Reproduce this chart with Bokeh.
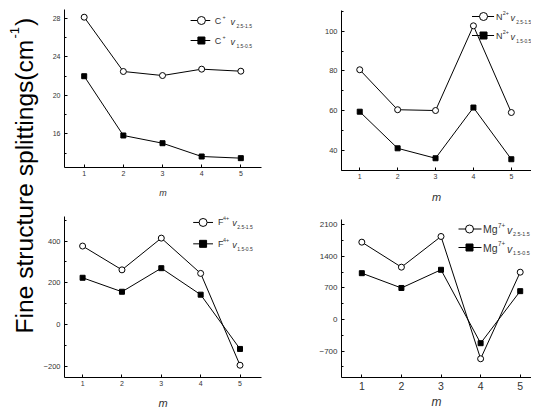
import math
from bokeh.plotting import figure
from bokeh.layouts import row, column
from bokeh.models import Range1d, FixedTicker, SingleIntervalTicker, Label
from bokeh.embed import file_html
from bokeh.resources import INLINE

# ---------------- data ----------------
m = [1, 2, 3, 4, 5]
c_25_15 = [28.1, 22.47, 22.05, 22.71, 22.5]
c_15_05 = [21.98, 15.83, 15.03, 13.65, 13.48]
n_25_15 = [80.6, 60.5, 60.1, 102.7, 59.1]
n_15_05 = [59.5, 41.1, 36.1, 61.6, 35.6]
f_25_15 = [376, 262, 414, 245, -195]
f_15_05 = [224, 157, 270, 143, -117]
mg_25_15 = [1715, 1161, 1841, -868, 1050]
mg_15_05 = [1028, 700, 1103, -523, 630]

ions = ["C", "N", "F", "Mg"]
ion_sup = ["+", "2+", "4+", "7+"]
sub_a = "2.5-1.5"
sub_b = "1.5-0.5"
y_intervals = [4, 20, 200, 700]
x_ticks = [1, 2, 3, 4, 5]
ylabel_main = "Fine structure splittings(cm"
ylabel_sup = "-1"
ylabel_end = ")"
xlabel = "m"

FONT = "Liberation Sans"

# ---------------- layout geometry (page pixels) ----------------
G = {
    "C": dict(cx=48, cy=0, w=252, h=205, fl=69, ft=9, fr=269, fb=167,
              x=(0.497, 5.528), y=(12.51, 28.9), tfy=7, tfx=7, lf=9, mf=9,
              xs=3, ms=9),
    "N": dict(cx=300, cy=0, w=239, h=205, fl=341, ft=10, fr=539, fb=170,
              x=(0.519, 5.532), y=(29.94, 110.4), tfy=7.5, tfx=7, lf=9, mf=11,
              xs=3, ms=9),
    "F": dict(cx=48, cy=205, w=252, h=206, fl=70, ft=216, fr=269, fb=378,
              x=(0.54, 5.546), y=(-253.8, 517.6), tfy=7.5, tfx=7, lf=9, mf=11,
              xs=3, ms=8),
    "Mg": dict(cx=300, cy=205, w=239, h=206, fl=349, ft=219, fr=539, fb=377,
               x=(0.487, 5.285), y=(-1283, 2217), tfy=8, tfx=10.5, lf=10.5, mf=12,
               xs=4, ms=2),
}

# legend layout: (line x0, line x1, marker x, row1 y, row2 y, name x, sup x, v x, sub x, sub font)
LEG = {
    "C": (197, 217, 208, 20, 40, 221.5, 229.5, 237.5, 243.5, 5.0),
    "N": (477, 500, 489, 16, 35, 502, 509, 517, 523, 4.8),
    "F": (200, 220, 210, 222, 243.5, 225, 230, 239.5, 244.5, 5.0),
    "Mg": (466, 489, 477, 228.5, 247, 490.5, 505.5, 514.5, 520.5, 5.4),
}


def px2d(g, px, py):
    x0, x1 = g["x"]
    y0, y1 = g["y"]
    return (x0 + (px - g["fl"]) / (g["fr"] - g["fl"]) * (x1 - x0),
            y0 + (g["fb"] - py) / (g["fb"] - g["ft"]) * (y1 - y0))


def make_panel(key, ya, yb, interval, sup):
    g = G[key]
    p = figure(width=g["w"], height=g["h"],
               x_range=Range1d(*g["x"]), y_range=Range1d(*g["y"]),
               output_backend="svg", toolbar_location=None,
               min_border_left=g["fl"] - g["cx"],
               min_border_right=g["cx"] + g["w"] - g["fr"],
               min_border_top=g["ft"] - g["cy"],
               min_border_bottom=g["cy"] + g["h"] - g["fb"])
    p.outline_line_color = None
    p.grid.visible = False
    p.background_fill_color = "white"
    p.border_fill_color = "white"

    for ax in (p.xaxis[0], p.yaxis[0]):
        ax.axis_line_color = "black"
        ax.axis_line_width = 1
        ax.major_tick_line_color = "black"
        ax.minor_tick_line_color = "black"
        ax.major_tick_in = 3
        ax.major_tick_out = 0
        ax.minor_tick_in = 2
        ax.minor_tick_out = 0
        ax.major_label_text_font = FONT
        ax.major_label_text_color = "#333333"
    p.xaxis.ticker = FixedTicker(ticks=x_ticks)
    p.xaxis.minor_tick_line_color = None
    p.xaxis.major_label_text_font_size = f"{g['tfx']}px"
    p.xaxis.major_label_standoff = g["xs"]
    p.yaxis.ticker = SingleIntervalTicker(interval=interval, num_minor_ticks=2)
    p.yaxis.major_label_text_font_size = f"{g['tfy']}px"
    p.yaxis.major_label_standoff = 4

    p.xaxis.axis_label = xlabel
    p.xaxis.axis_label_text_font = FONT
    p.xaxis.axis_label_text_font_style = "italic"
    p.xaxis.axis_label_text_font_size = f"{g['mf']}px"
    p.xaxis.axis_label_text_color = "#333333"
    p.xaxis.axis_label_standoff = g["ms"]

    # series
    p.line(m, ya, line_color="black", line_width=1)
    p.line(m, yb, line_color="black", line_width=1)
    p.scatter(m, ya, marker="circle", size=6, fill_color="white",
              line_color="black", line_width=1)
    p.scatter(m, yb, marker="square", size=5, fill_color="black",
              line_color="black")

    # legend
    lx0, lx1, mkx, r1, r2, nx, sx, vx, bx, bf = LEG[key]
    lf = g["lf"]
    for ry, mk, sub in ((r1, "circle", sub_a), (r2, "square", sub_b)):
        xa, ya_ = px2d(g, lx0, ry)
        xb, _ = px2d(g, lx1, ry)
        xm, _ = px2d(g, mkx, ry)
        p.line([xa, xb], [ya_, ya_], line_color="black", line_width=1)
        if mk == "circle":
            p.scatter([xm], [ya_], marker="circle", size=8, fill_color="white",
                      line_color="black", line_width=1)
        else:
            p.scatter([xm], [ya_], marker="square", size=7, fill_color="black",
                      line_color="black")
        tx, ty = px2d(g, nx, ry)
        p.add_layout(Label(x=tx, y=ty, text=key, text_font=FONT,
                           text_font_size=f"{lf}px", text_color="#333333",
                           text_align="left", text_baseline="middle"))
        tx, ty = px2d(g, sx, ry - 4)
        p.add_layout(Label(x=tx, y=ty, text=sup, text_font=FONT,
                           text_font_size=f"{lf*0.6:.1f}px", text_color="#333333",
                           text_align="left", text_baseline="middle"))
        tx, ty = px2d(g, vx, ry + 1)
        p.add_layout(Label(x=tx, y=ty, text="v", text_font=FONT,
                           text_font_style="italic",
                           text_font_size=f"{lf}px", text_color="#333333",
                           text_align="left", text_baseline="middle"))
        tx, ty = px2d(g, bx, ry + 5)
        p.add_layout(Label(x=tx, y=ty, text=sub, text_font=FONT,
                           text_font_size=f"{bf}px", text_color="#333333",
                           text_align="left", text_baseline="middle"))
    return p


p1 = make_panel("C", c_25_15, c_15_05, y_intervals[0], ion_sup[0])
p2 = make_panel("N", n_25_15, n_15_05, y_intervals[1], ion_sup[1])
p3 = make_panel("F", f_25_15, f_15_05, y_intervals[2], ion_sup[2])
p4 = make_panel("Mg", mg_25_15, mg_15_05, y_intervals[3], ion_sup[3])

# big shared y label (figure frame == canvas, so data units == pixels)
LH = 411
lab = figure(width=40, height=LH, x_range=Range1d(0, 40), y_range=Range1d(0, LH),
             output_backend="svg", toolbar_location=None,
             x_axis_type=None, y_axis_type=None,
             min_border_left=0, min_border_right=0, min_border_top=0,
             min_border_bottom=0)
lab.outline_line_color = None
lab.grid.visible = False
FS = 24.6
base_x = 32 - 8
start_y = LH - 333
main_len = 11.947 * FS
lab.add_layout(Label(x=base_x, y=start_y, text=ylabel_main, angle=math.pi / 2,
                     text_font=FONT, text_font_size=f"{FS}px",
                     text_color="black", text_align="left",
                     text_baseline="alphabetic"))
sup_fs = 13
lab.add_layout(Label(x=base_x - 10, y=start_y + main_len + 1, text=ylabel_sup,
                     angle=math.pi / 2, text_font=FONT,
                     text_font_size=f"{sup_fs}px", text_color="black",
                     text_align="left", text_baseline="alphabetic"))
lab.add_layout(Label(x=base_x, y=start_y + main_len + 1 + 0.889 * sup_fs + 1,
                     text=ylabel_end, angle=math.pi / 2, text_font=FONT,
                     text_font_size=f"{FS}px", text_color="black",
                     text_align="left", text_baseline="alphabetic"))

layout = row(lab, column(p1, p3, spacing=0), column(p2, p4, spacing=0), spacing=0)

open("out.html", "w").write(file_html(layout, INLINE))
